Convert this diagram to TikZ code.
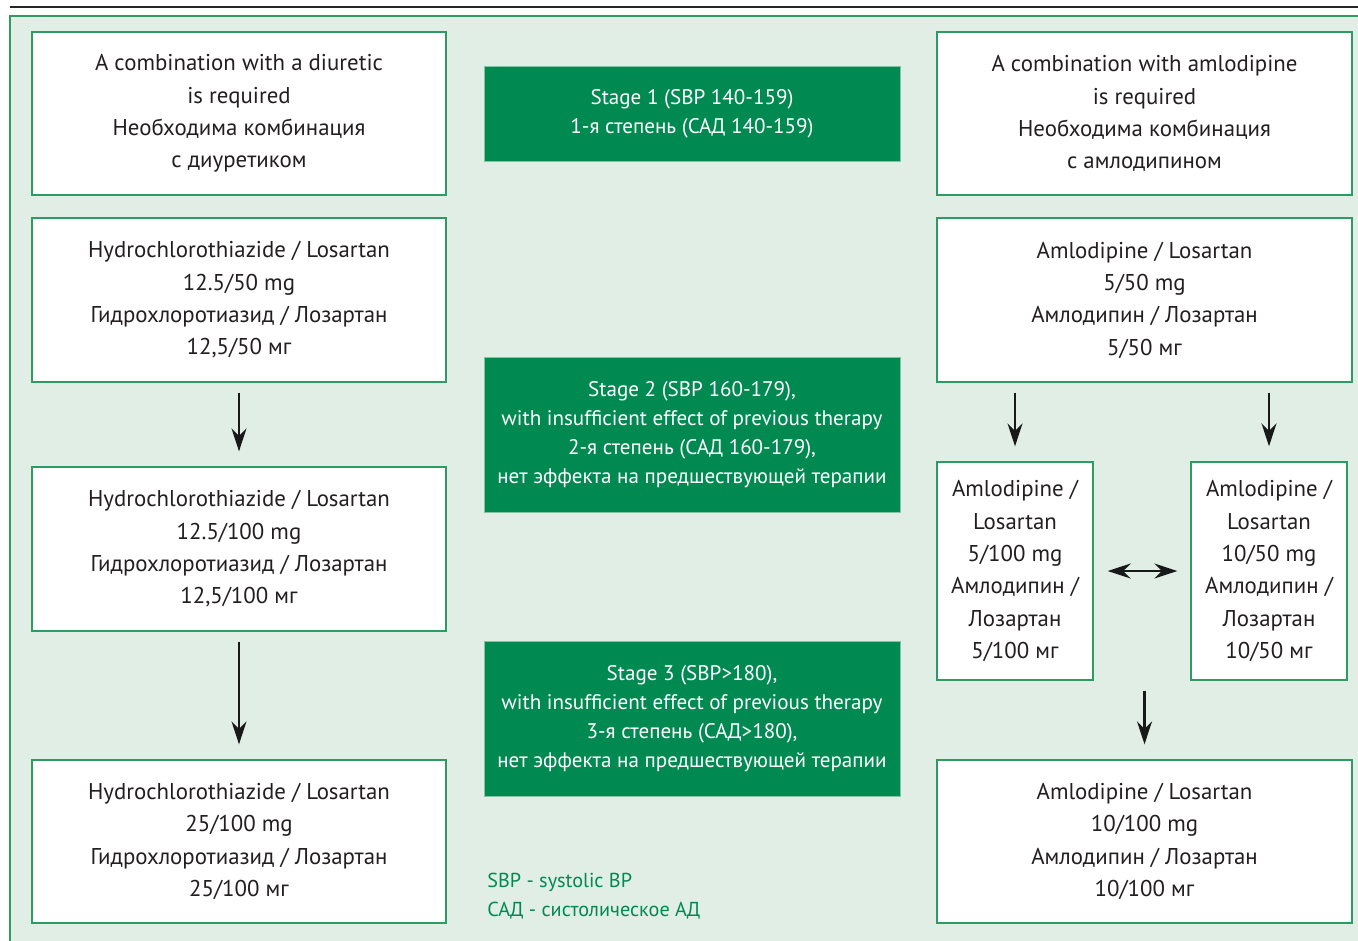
\documentclass[tikz,border=0pt]{standalone}
\usepackage{fontspec}
\setmainfont{PT Sans}
\usetikzlibrary{positioning,arrows.meta}
\definecolor{panelbg}{RGB}{224,238,229}
\definecolor{panelline}{RGB}{46,155,99}
\definecolor{stagegreen}{RGB}{0,137,81}
\definecolor{inktext}{RGB}{35,31,32}
\tikzset{
  >={Stealth[length=4.6mm,width=3mm]},
  drugbox/.style  ={draw=panelline, fill=white, line width=0.8pt, text=inktext,
                    align=center, font=\fontsize{13}{18.4}\selectfont, inner sep=2pt},
  stagebox/.style ={fill=stagegreen, draw=panelline!60, line width=0.4pt, text=white,
                    align=center, minimum width=8.32cm, font=\fontsize{12}{16.4}\selectfont},
  flow/.style     ={->, line width=1.2pt, black!90, shorten <=0.2cm, shorten >=0.3cm},
}

\begin{document}
\begin{tikzpicture}[x=0.02cm, y=-0.02cm]
  \useasboundingbox (0,0) rectangle (1358,940);

  %--- page rule and panel ---
  \draw[line width=1.2pt, black!85] (10,7) -- (1358,7);
  \fill[panelbg] (10,16) rectangle (1362,944);
  \draw[panelline, line width=1pt] (10,944) -- (10,16) -- (1362,16);

  %--- left column: with a diuretic ---
  \node[drugbox, minimum width=8.28cm, minimum height=3.26cm] (hl1) at (239,113.5)
    {A combination with a diuretic\\is required\\Необходима комбинация\\с диуретиком};
  \node[drugbox, minimum width=8.28cm, minimum height=3.28cm] (hl2) at (239,300)
    {Hydrochlorothiazide / Losartan\\12.5/50 mg\\Гидрохлоротиазид / Лозартан\\12,5/50 мг};
  \node[drugbox, minimum width=8.28cm, minimum height=3.28cm] (hl3) at (239,549)
    {Hydrochlorothiazide / Losartan\\12.5/100 mg\\Гидрохлоротиазид / Лозартан\\12,5/100 мг};
  \node[drugbox, minimum width=8.28cm, minimum height=3.26cm] (hl4) at (239,841.5)
    {Hydrochlorothiazide / Losartan\\25/100 mg\\Гидрохлоротиазид / Лозартан\\25/100 мг};

  %--- middle column: stages ---
  \node[stagebox, minimum height=1.9cm] (st1) at (692,113.5)
    {Stage 1 (SBP 140-159)\\1-я степень (САД 140-159)};
  \node[stagebox, minimum height=3.1cm] (st2) at (692,434.5)
    {Stage 2 (SBP 160-179),\\with insufficient effect of previous therapy\\2-я степень (САД 160-179),\\нет эффекта на предшествующей терапии};
  \node[stagebox, minimum height=3.1cm] (st3) at (692,718.5)
    {Stage 3 (SBP>180),\\with insufficient effect of previous therapy\\3-я степень (САД>180),\\нет эффекта на предшествующей терапии};

  \node[anchor=north west, text=stagegreen, align=left, inner sep=0pt,
        font=\fontsize{11.5}{16.5}\selectfont] (legend) at (487,873)
    {SBP - systolic BP\\САД - систолическое АД};

  %--- right column: with amlodipine ---
  \node[drugbox, minimum width=8.3cm, minimum height=3.26cm] (ar1) at (1144.5,113.5)
    {A combination with amlodipine\\is required\\Необходима комбинация\\с амлодипином};
  \node[drugbox, minimum width=8.3cm, minimum height=3.28cm] (ar2) at (1144.5,300)
    {Amlodipine / Losartan\\5/50 mg\\Амлодипин / Лозартан\\5/50 мг};
  \node[drugbox, minimum width=3.12cm, minimum height=4.36cm] (ar3a) at (1015,571)
    {Amlodipine /\\Losartan\\5/100 mg\\Амлодипин /\\Лозартан\\5/100 мг};
  \node[drugbox, minimum width=3.12cm, minimum height=4.36cm] (ar3b) at (1269,571)
    {Amlodipine /\\Losartan\\10/50 mg\\Амлодипин /\\Лозартан\\10/50 мг};
  \node[drugbox, minimum width=8.3cm, minimum height=3.26cm] (ar4) at (1144.5,841.5)
    {Amlodipine / Losartan\\10/100 mg\\Амлодипин / Лозартан\\10/100 мг};

  %--- arrows ---
  \draw[flow] (hl2) -- (hl3);
  \draw[flow] (hl3) -- (hl4);
  \draw[flow] (ar3a.north |- ar2.south) -- (ar3a.north);
  \draw[flow] (ar3b.north |- ar2.south) -- (ar3b.north);
  \draw[flow, <->, shorten <=0.28cm, shorten >=0.26cm] (ar3a.east) -- (ar3b.west);
  \draw[flow] (ar4.north |- ar3a.south) -- (ar4.north);
\end{tikzpicture}
\end{document}
